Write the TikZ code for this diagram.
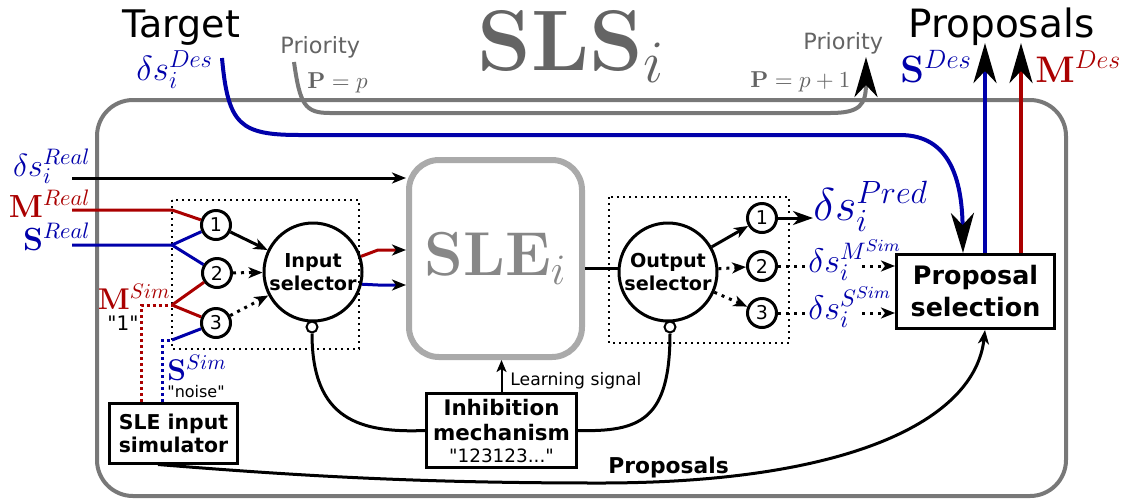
\documentclass[tikz,border=0pt]{standalone}
\usepackage{fix-cm}
\usepackage[no-math]{fontspec}
\setmainfont{DejaVu Sans}[Ligatures=TeXOff]
\usetikzlibrary{arrows.meta}
\definecolor{myblue}{RGB}{0,0,170}
\definecolor{myred}{RGB}{170,0,0}
\definecolor{outergray}{RGB}{120,120,120}
\definecolor{slegray}{RGB}{170,170,170}
\definecolor{textgray}{RGB}{100,100,100}
\definecolor{sletext}{RGB}{135,135,135}
\newcommand{\fsz}[1]{\fontsize{#1}{#1}\selectfont}
\newcommand{\dq}{\symbol{34}}
\begin{document}
\begin{tikzpicture}[x=0.5pt,y=-0.5pt,
 conn/.style={line width=1.5pt},
 dotconn/.style={line width=1.5pt, dash pattern=on 1.5pt off 2.5pt},
 cdots/.style={line width=1.5pt, dash pattern=on 1.5pt off 1.5pt},
 numc/.style={circle, draw, line width=1.5pt, minimum size=14.5pt, inner sep=0pt, fill=white, font=\fsz{9.5}},
 selc/.style={circle, draw, line width=1.5pt, minimum size=49pt, inner sep=0pt, align=center, font=\fontsize{9.6}{11.5}\selectfont\bfseries},
 inh/.style={circle, draw, line width=1pt, minimum size=5.5pt, inner sep=0pt, fill=white},
 blk/.style={draw, line width=1.5pt, align=center, inner sep=0pt, fill=white},
 lbl/.style={inner sep=0pt, anchor=base west},
 bigtip/.style={-{Stealth[length=20pt,width=11.5pt,inset=6pt,color=black]}},
 smalltip/.style={-{Stealth[length=7pt,width=5.5pt,inset=2pt]}},
]
\useasboundingbox (0,0) rectangle (1131,500);
% outer system box
\draw[outergray, line width=2pt, rounded corners=18pt] (97,100) rectangle (1066,496);

% top texts
\node[lbl, font=\fsz{19}] (target) at (122,37) {Target};
\node[lbl, text=myblue, font=\fsz{17.5}] (des) at (136,80) {$\delta s_i^{Des}$};
\node[lbl, text=textgray, font=\fsz{11.2}] (prio1) at (280,53) {Priority};
\node[lbl, text=textgray, font=\fsz{11.5}] (pp) at (307,88) {$\mathbf{P}=p$};
\node[lbl, text=textgray, font=\fsz{43}] (sls) at (477,70) {$\mathbf{SLS}_i$};
\node[lbl, text=textgray, font=\fsz{11.2}] (prio2) at (803,49) {Priority};
\node[lbl, text=textgray, font=\fsz{11.5}] (pp1) at (750,87) {$\mathbf{P}=p+1$};
\node[lbl, font=\fsz{19.5}] (props) at (908,37) {Proposals};
\node[lbl, text=myblue, font=\fsz{19}] (sdes) at (900,82) {$\mathbf{S}^{Des}$};
\node[lbl, text=myred, font=\fsz{18.5}] (mdes) at (1035,82) {$\mathbf{M}^{Des}$};

% left labels
\node[inner sep=0pt, anchor=base east, text=myblue, font=\fsz{16}] (dreal) at (91,176) {$\delta s_i^{Real}$};
\node[inner sep=0pt, anchor=base east, text=myred, font=\fsz{16}] (mreal) at (91,217) {$\mathbf{M}^{Real}$};
\node[inner sep=0pt, anchor=base east, text=myblue, font=\fsz{16}] (sreal) at (91,250) {$\mathbf{S}^{Real}$};
\node[inner sep=0pt, anchor=base east, text=myred, font=\fsz{15}] (msim) at (171,309) {$\mathbf{M}^{Sim}$};
\node[inner sep=0pt, font=\fsz{10}] (one) at (123,323) {\dq1\dq};
\node[lbl, text=myblue, font=\fsz{15}] (ssim) at (167,380) {$\mathbf{S}^{Sim}$};
\node[lbl, font=\fsz{8}] (noise) at (167,397) {\dq noise\dq};

% main blocks
\node[draw=slegray, line width=3pt, rounded corners=15pt, minimum width=86.5pt, minimum height=98.5pt, inner sep=0pt, text=sletext, font=\fsz{31}] (sle) at (495.5,258.5) {$\mathbf{SLE}_i$};
\node[selc] (insel) at (313,272) {Input\\selector};
\node[selc] (outsel) at (668,272) {Output\\selector};
\node[inh] (ih1) at (312,327) {};
\node[inh] (ih2) at (670,327) {};
\node[numc] (c1) at (216,225) {1};
\node[numc] (c2) at (217,273) {2};
\node[numc] (c3) at (216,323) {3};
\node[numc] (o1) at (762,218) {1};
\node[numc] (o2) at (762,266) {2};
\node[numc] (o3) at (762,313) {3};
\node[blk, minimum width=79pt, minimum height=37pt, font=\fontsize{12.7}{16}\selectfont\bfseries] (ps) at (975.5,291.5) {Proposal\\selection};
\node[blk, minimum width=75pt, minimum height=37pt, font=\fontsize{10.7}{12.5}\selectfont\bfseries] (inhib) at (501.5,430.5) {Inhibition\\mechanism\\[-1.5pt]{\fontsize{9.2}{10}\selectfont\mdseries \dq123123...\dq}};
\node[blk, minimum width=64pt, minimum height=30pt, font=\fontsize{10.2}{11.5}\selectfont\bfseries] (sim) at (173.5,433) {SLE input\\simulator};

% dotted selector boxes
\draw[line width=1pt, dash pattern=on 1pt off 2pt] (172,200) rectangle (359,349);
\draw[line width=1pt, dash pattern=on 1pt off 2pt] (609,197) rectangle (789,343);

% right labels
\node[lbl, text=myblue, font=\fsz{23}] (pred) at (813,220) {$\delta s_i^{Pred}$};
\node[lbl, text=myblue, font=\fsz{17}] (dm) at (808,272) {$\delta s_i^{M^{Sim}}$};
\node[lbl, text=myblue, font=\fsz{17}] (ds) at (808,319) {$\delta s_i^{S^{Sim}}$};
\node[lbl, font=\fsz{8.6}] (learn) at (510,385) {Learning signal};
\node[lbl, font=\fontsize{10.9}{11}\selectfont\bfseries] (bprop) at (608,473) {Proposals};

% coordinates
\coordinate (drs) at (72,178);
\coordinate (mrs) at (72,210);
\coordinate (srs) at (72,245);
\coordinate (jm) at (172,210);
\coordinate (js) at (172,245);
\coordinate (jms) at (172,305);
\coordinate (jss) at (172,340);
\coordinate (rx) at (141,305);
\coordinate (bx) at (162,340);
\coordinate (r1) at (378,250);
\coordinate (b1) at (378,285);
\coordinate (so) at (600,268);
\coordinate (xdes) at (963,100);
\coordinate (xs) at (985,43);
\coordinate (xm) at (1021,43);
\coordinate (desstart) at (222,58);
\coordinate (pstart) at (294,62);
\coordinate (pend) at (866,57);
\coordinate (xbot) at (985,100);
\coordinate (simx) at (158,100);
\coordinate (resume) at (862,100);

% input lines
\draw[conn, smalltip] (drs) -- (drs -| sle.west);
\draw[conn, myred] (mrs) -- (jm) -- (c1);
\draw[conn, myblue] (srs) -- (js) -- (c1);
\draw[conn, myblue] (js) -- (c2);
\draw[cdots, myred] (sim.north -| rx) -- (rx) -- (jms);
\draw[conn, myred] (jms) -- (c2);
\draw[conn, myred] (jms) -- (c3);
\draw[cdots, myblue] (sim.north -| bx) -- (bx) -- (jss);
\draw[conn, myblue] (jss) -- (c3);

% to input selector
\draw[conn, smalltip] (c1) -- (insel);
\draw[dotconn, smalltip] (c2) -- (insel);
\draw[dotconn, smalltip] (c3) -- (insel);

% input selector to SLE
\draw[conn, myred, -{Stealth[length=7pt,width=5.5pt,inset=2pt,color=black]}] (insel.18) -- (r1) -- (r1 -| sle.west);
\draw[conn, myblue, -{Stealth[length=7pt,width=5.5pt,inset=2pt,color=black]}] (insel.-14) -- (b1) -- (b1 -| sle.west);

% SLE to output selector
\draw[conn] (so -| sle.east) -- (so -| outsel.west);
\draw[conn, smalltip] (outsel) -- (o1);
\draw[dotconn, smalltip] (outsel) -- (o2);
\draw[dotconn, smalltip] (outsel) -- (o3);

% outputs
\draw[conn, -{Stealth[length=10pt,width=7pt,inset=3pt]}] (o1) -- (o1 -| pred.west);
\draw[dotconn] (o2) -- (o2 -| dm.west);
\draw[dotconn, smalltip] (o2 -| resume) -- (o2 -| ps.west);
\draw[dotconn] (o3) -- (o3 -| ds.west);
\draw[dotconn, smalltip] (o3 -| resume) -- (o3 -| ps.west);

% inhibition
\draw[conn] (ih1.south) .. controls (312,420) and (360,433) .. (inhib.west);
\draw[conn] (inhib.east) .. controls (640,432) and (670,420) .. (ih2.south);
\draw[line width=1pt, -{Stealth[length=6pt,width=5pt,inset=1.5pt]}] (inhib.north) -- (inhib.north |- sle.south);

% proposals bottom
\draw[conn, smalltip] (sim.south -| simx) .. controls (300,476) and (420,483) .. (600,483) .. controls (850,483) and (975,420) .. (ps.south -| xbot);

% top flows
\draw[myblue, line width=2pt, bigtip] (desstart) .. controls (228,125) and (240,135) .. (300,135) -- (900,135) .. controls (950,135) and (962,180) .. (ps.north -| xdes);
\draw[outergray, line width=2pt, bigtip] (pstart) .. controls (300,105) and (305,113) .. (330,113) -- (830,113) .. controls (860,113) and (866,105) .. (pend);
\draw[myblue, line width=2pt, bigtip] (ps.north -| xs) -- (xs);
\draw[myred, line width=2pt, bigtip] (ps.north -| xm) -- (xm);
\end{tikzpicture}
\end{document}
